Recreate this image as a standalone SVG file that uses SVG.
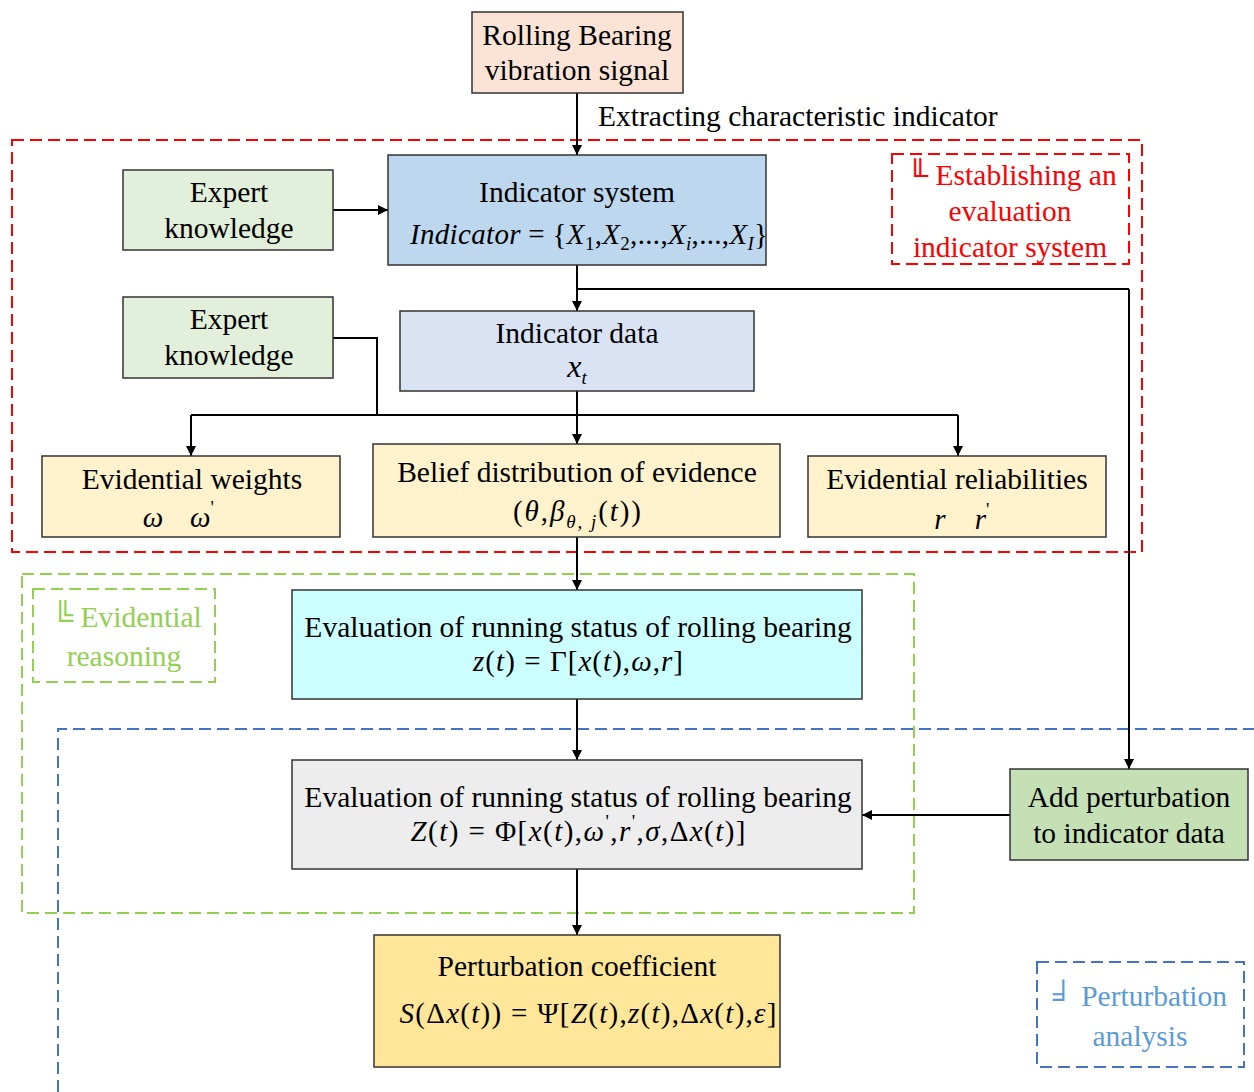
<svg xmlns="http://www.w3.org/2000/svg" width="1254" height="1092" viewBox="0 0 1254 1092">
<defs>
<marker id="ah" markerWidth="10" markerHeight="10" refX="10" refY="5" orient="auto" markerUnits="userSpaceOnUse">
<path d="M0,0 L10,5 L0,10 z" fill="#000"/>
</marker>
<style>
.t{font-family:"Liberation Serif","Times New Roman",serif;font-size:29.5px;fill:#000;text-anchor:middle}
.m{font-family:"Liberation Serif","Times New Roman",serif;font-size:29px;font-style:italic;fill:#000;text-anchor:middle}
.u{font-style:normal}
.s{font-size:19px}
.box{stroke:#333;stroke-width:1.5}
.c{fill:none;stroke:#000;stroke-width:2}
.ca{fill:none;stroke:#000;stroke-width:2;marker-end:url(#ah)}
.red{fill:none;stroke:#ff0000;stroke-width:2;stroke-dasharray:12,6}
.grn{fill:none;stroke:#92d050;stroke-width:2;stroke-dasharray:12,6}
.blu{fill:none;stroke:#4472c4;stroke-width:2;stroke-dasharray:12,6}
</style>
</defs>
<rect width="1254" height="1092" fill="#fff"/>

<g id="regions">
<rect class="red" x="12" y="140" width="1130" height="412"/>
<rect class="grn" x="22" y="574" width="892" height="339"/>
<path class="blu" d="M58,1092 L58,729 L1254,729"/>
</g>

<g id="region-labels">
<g id="label-establishing">
<rect class="red" x="892" y="154" width="237" height="110"/>
<text class="t" style="fill:#ff0000" x="1012" y="185">╙ Establishing an</text>
<text class="t" style="fill:#ff0000" x="1010" y="221">evaluation</text>
<text class="t" style="fill:#ff0000" x="1010" y="257">indicator system</text>
</g>
<g id="label-reasoning">
<rect class="grn" x="33" y="589" width="182" height="93"/>
<text class="t" style="fill:#92d050" x="127" y="627">╚ Evidential</text>
<text class="t" style="fill:#92d050" x="124" y="666">reasoning</text>
</g>
<g id="label-perturbation">
<rect class="blu" x="1037" y="962" width="207" height="105"/>
<text class="t" style="fill:#5b9bd5" x="1140" y="1006">╛ Perturbation</text>
<text class="t" style="fill:#5b9bd5" x="1140" y="1046">analysis</text>
</g>
</g>

<g id="connectors">
<line class="ca" x1="577" y1="93" x2="577" y2="155"/>
<line class="ca" x1="333" y1="210" x2="388" y2="210"/>
<polyline class="c" points="577,265 577,289 1129,289"/>
<polyline class="ca" points="1129,289 1129,769"/>
<line class="ca" x1="577" y1="289" x2="577" y2="311"/>
<polyline class="c" points="333,338 377,338 377,415"/>
<line class="c" x1="577" y1="391" x2="577" y2="415"/>
<line class="c" x1="191" y1="415" x2="958" y2="415"/>
<line class="ca" x1="191" y1="415" x2="191" y2="456"/>
<line class="ca" x1="577" y1="415" x2="577" y2="444"/>
<line class="ca" x1="958" y1="415" x2="958" y2="456"/>
<line class="ca" x1="577" y1="537" x2="577" y2="590"/>
<line class="ca" x1="577" y1="699" x2="577" y2="760"/>
<line class="ca" x1="1010" y1="815" x2="862" y2="815"/>
<line class="ca" x1="577" y1="869" x2="577" y2="935"/>
<text class="t" style="text-anchor:start" x="598" y="126">Extracting characteristic indicator</text>
</g>

<g id="signal">
<rect class="box" x="472" y="12" width="211" height="81" fill="#fbe3d6"/>
<text class="t" x="577" y="45">Rolling Bearing</text>
<text class="t" x="577" y="80">vibration signal</text>
</g>

<g id="indicator-system">
<rect class="box" x="388" y="155" width="378" height="110" fill="#bdd7ee"/>
<text class="t" x="577" y="202">Indicator system</text>
<text class="m" x="589" y="244" textLength="358" lengthAdjust="spacing">Indicator <tspan class="u">= {</tspan>X<tspan class="s u" dy="6">1</tspan><tspan dy="-6" class="u">,</tspan>X<tspan class="s u" dy="6">2</tspan><tspan dy="-6" class="u">,...,</tspan>X<tspan class="s" dy="6">i</tspan><tspan dy="-6" class="u">,...,</tspan>X<tspan class="s" dy="6">I</tspan><tspan dy="-6" class="u">}</tspan></text>
</g>

<g id="expert-1">
<rect class="box" x="123" y="170" width="210" height="80" fill="#e2efda"/>
<text class="t" x="229" y="202">Expert</text>
<text class="t" x="229" y="238">knowledge</text>
</g>

<g id="expert-2">
<rect class="box" x="123" y="297" width="210" height="81" fill="#e2efda"/>
<text class="t" x="229" y="329">Expert</text>
<text class="t" x="229" y="365">knowledge</text>
</g>

<g id="indicator-data">
<rect class="box" x="400" y="311" width="354" height="80" fill="#dae3f3"/>
<text class="t" x="577" y="343">Indicator data</text>
<text class="m" x="577" y="377" style="font-size:32px">x<tspan class="s" dy="7">t</tspan></text>
</g>

<g id="weights">
<rect class="box" x="42" y="456" width="298" height="81" fill="#fff2cc"/>
<text class="t" x="192" y="489">Evidential weights</text>
<text class="m" x="153" y="527">ω</text>
<text class="m" x="202" y="527">ω<tspan class="s u" dy="-13">'</tspan></text>
</g>

<g id="belief">
<rect class="box" x="373" y="444" width="407" height="93" fill="#fff2cc"/>
<text class="t" x="577" y="482">Belief distribution of evidence</text>
<text class="m" x="577" y="521" textLength="128" lengthAdjust="spacing"><tspan class="u">(</tspan>θ<tspan class="u">,</tspan>β<tspan class="s" dy="7">θ, j</tspan><tspan dy="-7" class="u">(</tspan>t<tspan class="u">))</tspan></text>
</g>

<g id="reliabilities">
<rect class="box" x="808" y="456" width="298" height="81" fill="#fff2cc"/>
<text class="t" x="957" y="489">Evidential reliabilities</text>
<text class="m" x="940" y="529">r</text>
<text class="m" x="982" y="529">r<tspan class="s u" dy="-13">'</tspan></text>
</g>

<g id="evaluation-1">
<rect class="box" x="292" y="590" width="570" height="109" fill="#ccffff"/>
<text class="t" x="578" y="637">Evaluation of running status of rolling bearing</text>
<text class="m" x="578" y="671" textLength="210" lengthAdjust="spacing">z<tspan class="u">(</tspan>t<tspan class="u">) = Γ[</tspan>x<tspan class="u">(</tspan>t<tspan class="u">),</tspan>ω<tspan class="u">,</tspan>r<tspan class="u">]</tspan></text>
</g>

<g id="evaluation-2">
<rect class="box" x="292" y="760" width="570" height="109" fill="#ededed"/>
<text class="t" x="578" y="807">Evaluation of running status of rolling bearing</text>
<text class="m" x="578" y="841" textLength="335" lengthAdjust="spacing">Z<tspan class="u">(</tspan>t<tspan class="u">) = Φ[</tspan>x<tspan class="u">(</tspan>t<tspan class="u">),</tspan>ω<tspan class="s u" dy="-13">'</tspan><tspan dy="13" class="u">,</tspan>r<tspan class="s u" dy="-13">'</tspan><tspan dy="13" class="u">,</tspan>σ<tspan class="u">,Δ</tspan>x<tspan class="u">(</tspan>t<tspan class="u">)]</tspan></text>
</g>

<g id="add-perturbation">
<rect class="box" x="1010" y="769" width="238" height="91" fill="#c5e0b4"/>
<text class="t" x="1129" y="807">Add perturbation</text>
<text class="t" x="1129" y="843">to indicator data</text>
</g>

<g id="perturbation-coefficient">
<rect class="box" x="374" y="935" width="406" height="132" fill="#ffe699"/>
<text class="t" x="577" y="976">Perturbation coefficient</text>
<text class="m" x="588" y="1023" textLength="377" lengthAdjust="spacing">S<tspan class="u">(Δ</tspan>x<tspan class="u">(</tspan>t<tspan class="u">)) = Ψ[</tspan>Z<tspan class="u">(</tspan>t<tspan class="u">),</tspan>z<tspan class="u">(</tspan>t<tspan class="u">),Δ</tspan>x<tspan class="u">(</tspan>t<tspan class="u">),</tspan>ε<tspan class="u">]</tspan></text>
</g>
</svg>
